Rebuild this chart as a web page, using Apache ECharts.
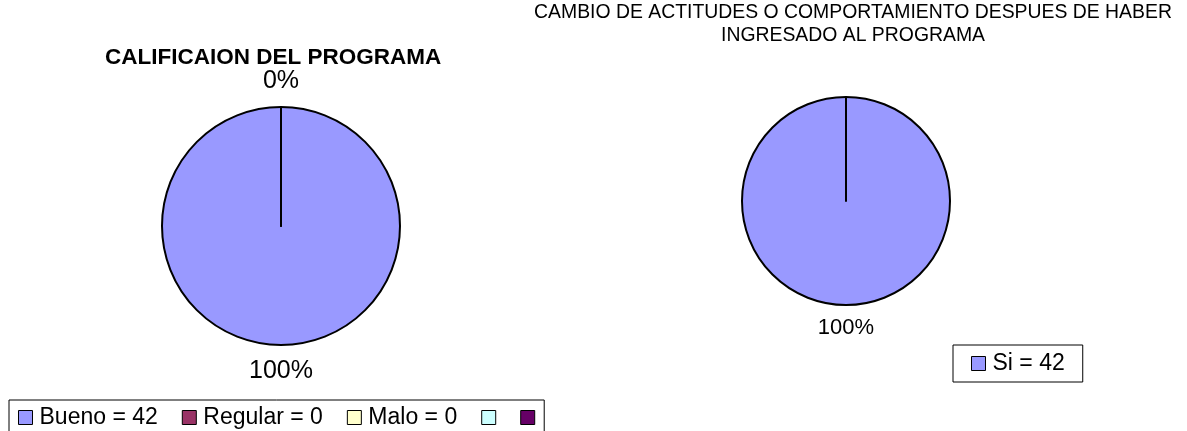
<!DOCTYPE html>
<html><head><meta charset="utf-8">
<script src="https://cdn.jsdelivr.net/npm/echarts@6/dist/echarts.min.js"></script>
<style>html,body{margin:0;padding:0;background:#fff}#c{width:1187px;height:431px}</style>
</head><body><div id="c"></div>
<script>
const califTitle = 'CALIFICAION DEL PROGRAMA';
const califCategories = ['Bueno', 'Regular', 'Malo', '', ''];
const califValues = [42, 0, 0, null, null];
const califColors = ['#9999FF', '#993366', '#FFFFCC', '#CCFFFF', '#660066'];

const cambioTitle = 'CAMBIO DE ACTITUDES O COMPORTAMIENTO DESPUES DE HABER\nINGRESADO AL PROGRAMA';
const cambioCategories = ['Si', 'No'];
const cambioValues = [42, 0];
const cambioColors = ['#9999FF', '#993366'];

const FONT = 'Liberation Sans, Arial, sans-serif';

function uniqName(cat, i) { return cat || ' '.repeat(i + 1); }

const califNames = califCategories.map(uniqName);
const cambioNames = cambioCategories.map(uniqName);

const califData = califNames.map((n, i) => ({
  name: n,
  value: califValues[i],
  itemStyle: { color: califColors[i] },
  label: { show: califValues[i] !== null && i <= 1 }
}));
const cambioData = cambioNames.map((n, i) => ({
  name: n,
  value: cambioValues[i],
  itemStyle: { color: cambioColors[i] },
  label: { show: cambioValues[i] > 0 }
}));

function legendFmt(names, values) {
  return function (n) {
    const i = names.indexOf(n);
    return n.trim() ? n + ' = ' + values[i] : '';
  };
}

// centre each outside label horizontally over its slice's bounding box
const centerLabel = (params) => ({ x: params.rect.x + params.rect.width / 2, align: 'center' });

const chart = echarts.init(document.getElementById('c'), null, { renderer: 'canvas' });
chart.setOption({
  animation: false,
  backgroundColor: '#fff',
  title: [
    { text: califTitle, left: 105, top: 46, padding: 0,
      textStyle: { fontFamily: FONT, fontSize: 22.5, fontWeight: 'bold', color: '#000' } },
    { text: cambioTitle, left: 853, top: 1, padding: 0, textAlign: 'center',
      textStyle: { fontFamily: FONT, fontSize: 19.4, fontWeight: 'normal', color: '#000', lineHeight: 23 } }
  ],
  legend: [
    {
      data: califNames,
      left: 9, top: 400, orient: 'horizontal',
      padding: [6, 9, 8, 9],
      itemGap: 24, itemWidth: 14, itemHeight: 14,
      icon: 'rect',
      borderColor: '#000', borderWidth: 1,
      itemStyle: { borderColor: '#000', borderWidth: 1 },
      textStyle: { fontFamily: FONT, fontSize: 23, color: '#000', padding: [0, 0, 0, 2] },
      formatter: legendFmt(califNames, califValues),
      selectedMode: false
    },
    {
      data: [cambioNames[0]],
      left: 953, top: 345, orient: 'horizontal',
      padding: [7, 18, 7, 18],
      itemWidth: 14, itemHeight: 14,
      icon: 'rect',
      borderColor: '#000', borderWidth: 1,
      itemStyle: { borderColor: '#000', borderWidth: 1 },
      textStyle: { fontFamily: FONT, fontSize: 23, color: '#000', padding: [0, 0, 0, 2] },
      formatter: legendFmt(cambioNames, cambioValues),
      selectedMode: false
    }
  ],
  series: [
    {
      type: 'pie',
      center: [281, 226], radius: 119,
      startAngle: 90, clockwise: true,
      avoidLabelOverlap: false,
      data: califData,
      itemStyle: { borderColor: '#000', borderWidth: 2 },
      label: { position: 'outside', fontFamily: FONT, fontSize: 25, color: '#000',
        formatter: p => Math.round(p.percent) + '%' },
      labelLine: { show: false, length: 26, length2: 0 },
      labelLayout: centerLabel,
      emphasis: { disabled: true }
    },
    {
      type: 'pie',
      center: [846, 201], radius: 104,
      startAngle: 90, clockwise: true,
      avoidLabelOverlap: false,
      data: cambioData,
      itemStyle: { borderColor: '#000', borderWidth: 2 },
      label: { position: 'outside', fontFamily: FONT, fontSize: 22, color: '#000',
        formatter: p => Math.round(p.percent) + '%' },
      labelLine: { show: false, length: 23, length2: 0 },
      labelLayout: centerLabel,
      emphasis: { disabled: true }
    }
  ]
});
</script></body></html>
